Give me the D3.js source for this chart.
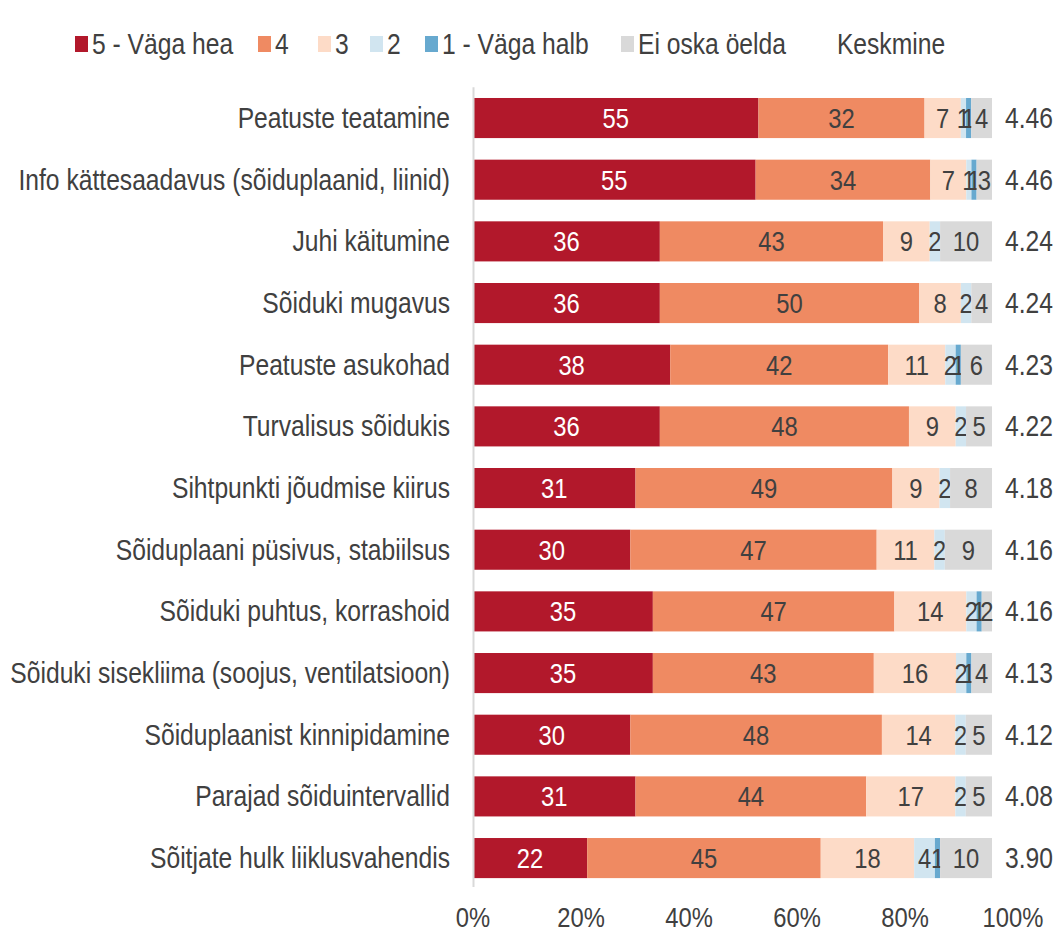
<!DOCTYPE html>
<html>
<head>
<meta charset="utf-8">
<script src="https://cdn.jsdelivr.net/npm/d3@7"></script>
<style>
  body { margin: 0; background: #fff; }
  svg text { font-family: "Liberation Sans", Arial, sans-serif; fill: #404040; }
</style>
</head>
<body>
<svg width="1063" height="934"></svg>
<script>
var categories = [
  "Peatuste teatamine",
  "Info kättesaadavus (sõiduplaanid, liinid)",
  "Juhi käitumine",
  "Sõiduki mugavus",
  "Peatuste asukohad",
  "Turvalisus sõidukis",
  "Sihtpunkti jõudmise kiirus",
  "Sõiduplaani püsivus, stabiilsus",
  "Sõiduki puhtus, korrashoid",
  "Sõiduki sisekliima (soojus, ventilatsioon)",
  "Sõiduplaanist kinnipidamine",
  "Parajad sõiduintervallid",
  "Sõitjate hulk liiklusvahendis"
];
var seriesNames = ["5 - Väga hea", "4", "3", "2", "1 - Väga halb", "Ei oska öelda"];
var s5 = [55, 55, 36, 36, 38, 36, 31, 30, 35, 35, 30, 31, 22];
var s4 = [32, 34, 43, 50, 42, 48, 49, 47, 47, 43, 48, 44, 45];
var s3 = [7, 7, 9, 8, 11, 9, 9, 11, 14, 16, 14, 17, 18];
var s2 = [1, 1, 2, 2, 2, 2, 2, 2, 2, 2, 2, 2, 4];
var s1 = [1, 1, 0, 0, 1, 0, 0, 0, 1, 1, 0, 0, 1];
var sEi = [4, 3, 10, 4, 6, 5, 8, 9, 2, 4, 5, 5, 10];
var keskmine = ["4.46", "4.46", "4.24", "4.24", "4.23", "4.22", "4.18", "4.16", "4.16", "4.13", "4.12", "4.08", "3.90"];
var ticks = [0, 20, 40, 60, 80, 100];

var colors = ["#b2182b", "#ef8a62", "#fddbc7", "#d1e5f0", "#67a9cf", "#d9d9d9"];
var series = [s5, s4, s3, s2, s1, sEi];

var table = categories.map(function(c, i) {
  var row = { name: c };
  seriesNames.forEach(function(s, j) { row[s] = series[j][i]; });
  return row;
});
// rows are normalised so every bar ends at the same place, labels keep the raw numbers
var stacked = d3.stack().keys(seriesNames).offset(d3.stackOffsetExpand)(table);

var svg = d3.select("svg");

var x = d3.scaleLinear().domain([0, 1]).range([473, 992]);
var xAxis = d3.scaleLinear().domain([0, 100]).range([473, 1013]);
var y = d3.scaleBand().domain(categories).range([87.2, 888.9])
  .paddingInner(0.35).paddingOuter(0.175);
var color = d3.scaleOrdinal().domain(seriesNames).range(colors);

var narrow = 0.85; // the original font is a condensed one

function place(sel, fx, fy) {
  sel.attr("transform", function(d, i) {
    return "translate(" + fx(d, i) + "," + fy(d, i) + ") scale(" + narrow + ",1)";
  });
}

// bars
var groups = svg.selectAll("g.series")
  .data(stacked)
  .enter()
  .append("g")
  .attr("class", "series")
  .style("fill", function(d) { return color(d.key); });

groups.selectAll("rect")
  .data(function(d) { return d; })
  .enter()
  .append("rect")
  .attr("x", function(d) { return x(d[0]); })
  .attr("y", function(d) { return y(d.data.name); })
  .attr("width", function(d) { return x(d[1]) - x(d[0]); })
  .attr("height", y.bandwidth());

// value labels
groups.each(function(s) {
  d3.select(this).selectAll("text")
    .data(s.filter(function(d) { return d.data[s.key] > 0; }))
    .enter()
    .append("text")
    .attr("text-anchor", "middle")
    .style("font-size", "28px")
    .style("fill", s.key === seriesNames[0] ? "#fff" : "#404040")
    .text(function(d) { return d.data[s.key]; })
    .call(place,
      function(d) { return (x(d[0]) + x(d[1])) / 2; },
      function(d) { return y(d.data.name) + y.bandwidth() / 2 + 10; });
});

// vertical axis line
svg.append("line")
  .attr("x1", 473.5).attr("x2", 473.5)
  .attr("y1", y.range()[0]).attr("y2", y.range()[1] - 2)
  .style("stroke", "#d9d9d9")
  .style("stroke-width", 2);

// category labels
svg.selectAll("text.cat")
  .data(categories)
  .enter()
  .append("text")
  .attr("class", "cat")
  .attr("text-anchor", "end")
  .style("font-size", "29px")
  .text(function(d) { return d; })
  .call(place,
    function() { return 450; },
    function(d) { return y(d) + y.bandwidth() / 2 + 10; });

// averages
svg.selectAll("text.avg")
  .data(keskmine)
  .enter()
  .append("text")
  .attr("class", "avg")
  .attr("text-anchor", "middle")
  .style("font-size", "29px")
  .text(function(d) { return d; })
  .call(place,
    function() { return 1029; },
    function(d, i) { return y(categories[i]) + y.bandwidth() / 2 + 10; });

// x axis labels
svg.selectAll("text.tick")
  .data(ticks)
  .enter()
  .append("text")
  .attr("class", "tick")
  .attr("text-anchor", "middle")
  .style("font-size", "28px")
  .text(function(d) { return d + "%"; })
  .call(place,
    function(d) { return xAxis(d); },
    function() { return 927; });

// legend
var legendX = [75, 258, 318, 370, 425, 621];
var legend = svg.selectAll("g.legend")
  .data(seriesNames)
  .enter()
  .append("g")
  .attr("class", "legend")
  .attr("transform", function(d, i) { return "translate(" + legendX[i] + ",0)"; });
legend.append("rect")
  .attr("y", 36).attr("width", 13).attr("height", 16)
  .style("fill", function(d) { return color(d); });
legend.append("text")
  .style("font-size", "29px")
  .text(function(d) { return d; })
  .call(place, function() { return 17; }, function() { return 54; });

svg.append("text")
  .attr("text-anchor", "middle")
  .style("font-size", "29px")
  .text("Keskmine")
  .call(place, function() { return 891; }, function() { return 54; });
</script>
</body>
</html>
